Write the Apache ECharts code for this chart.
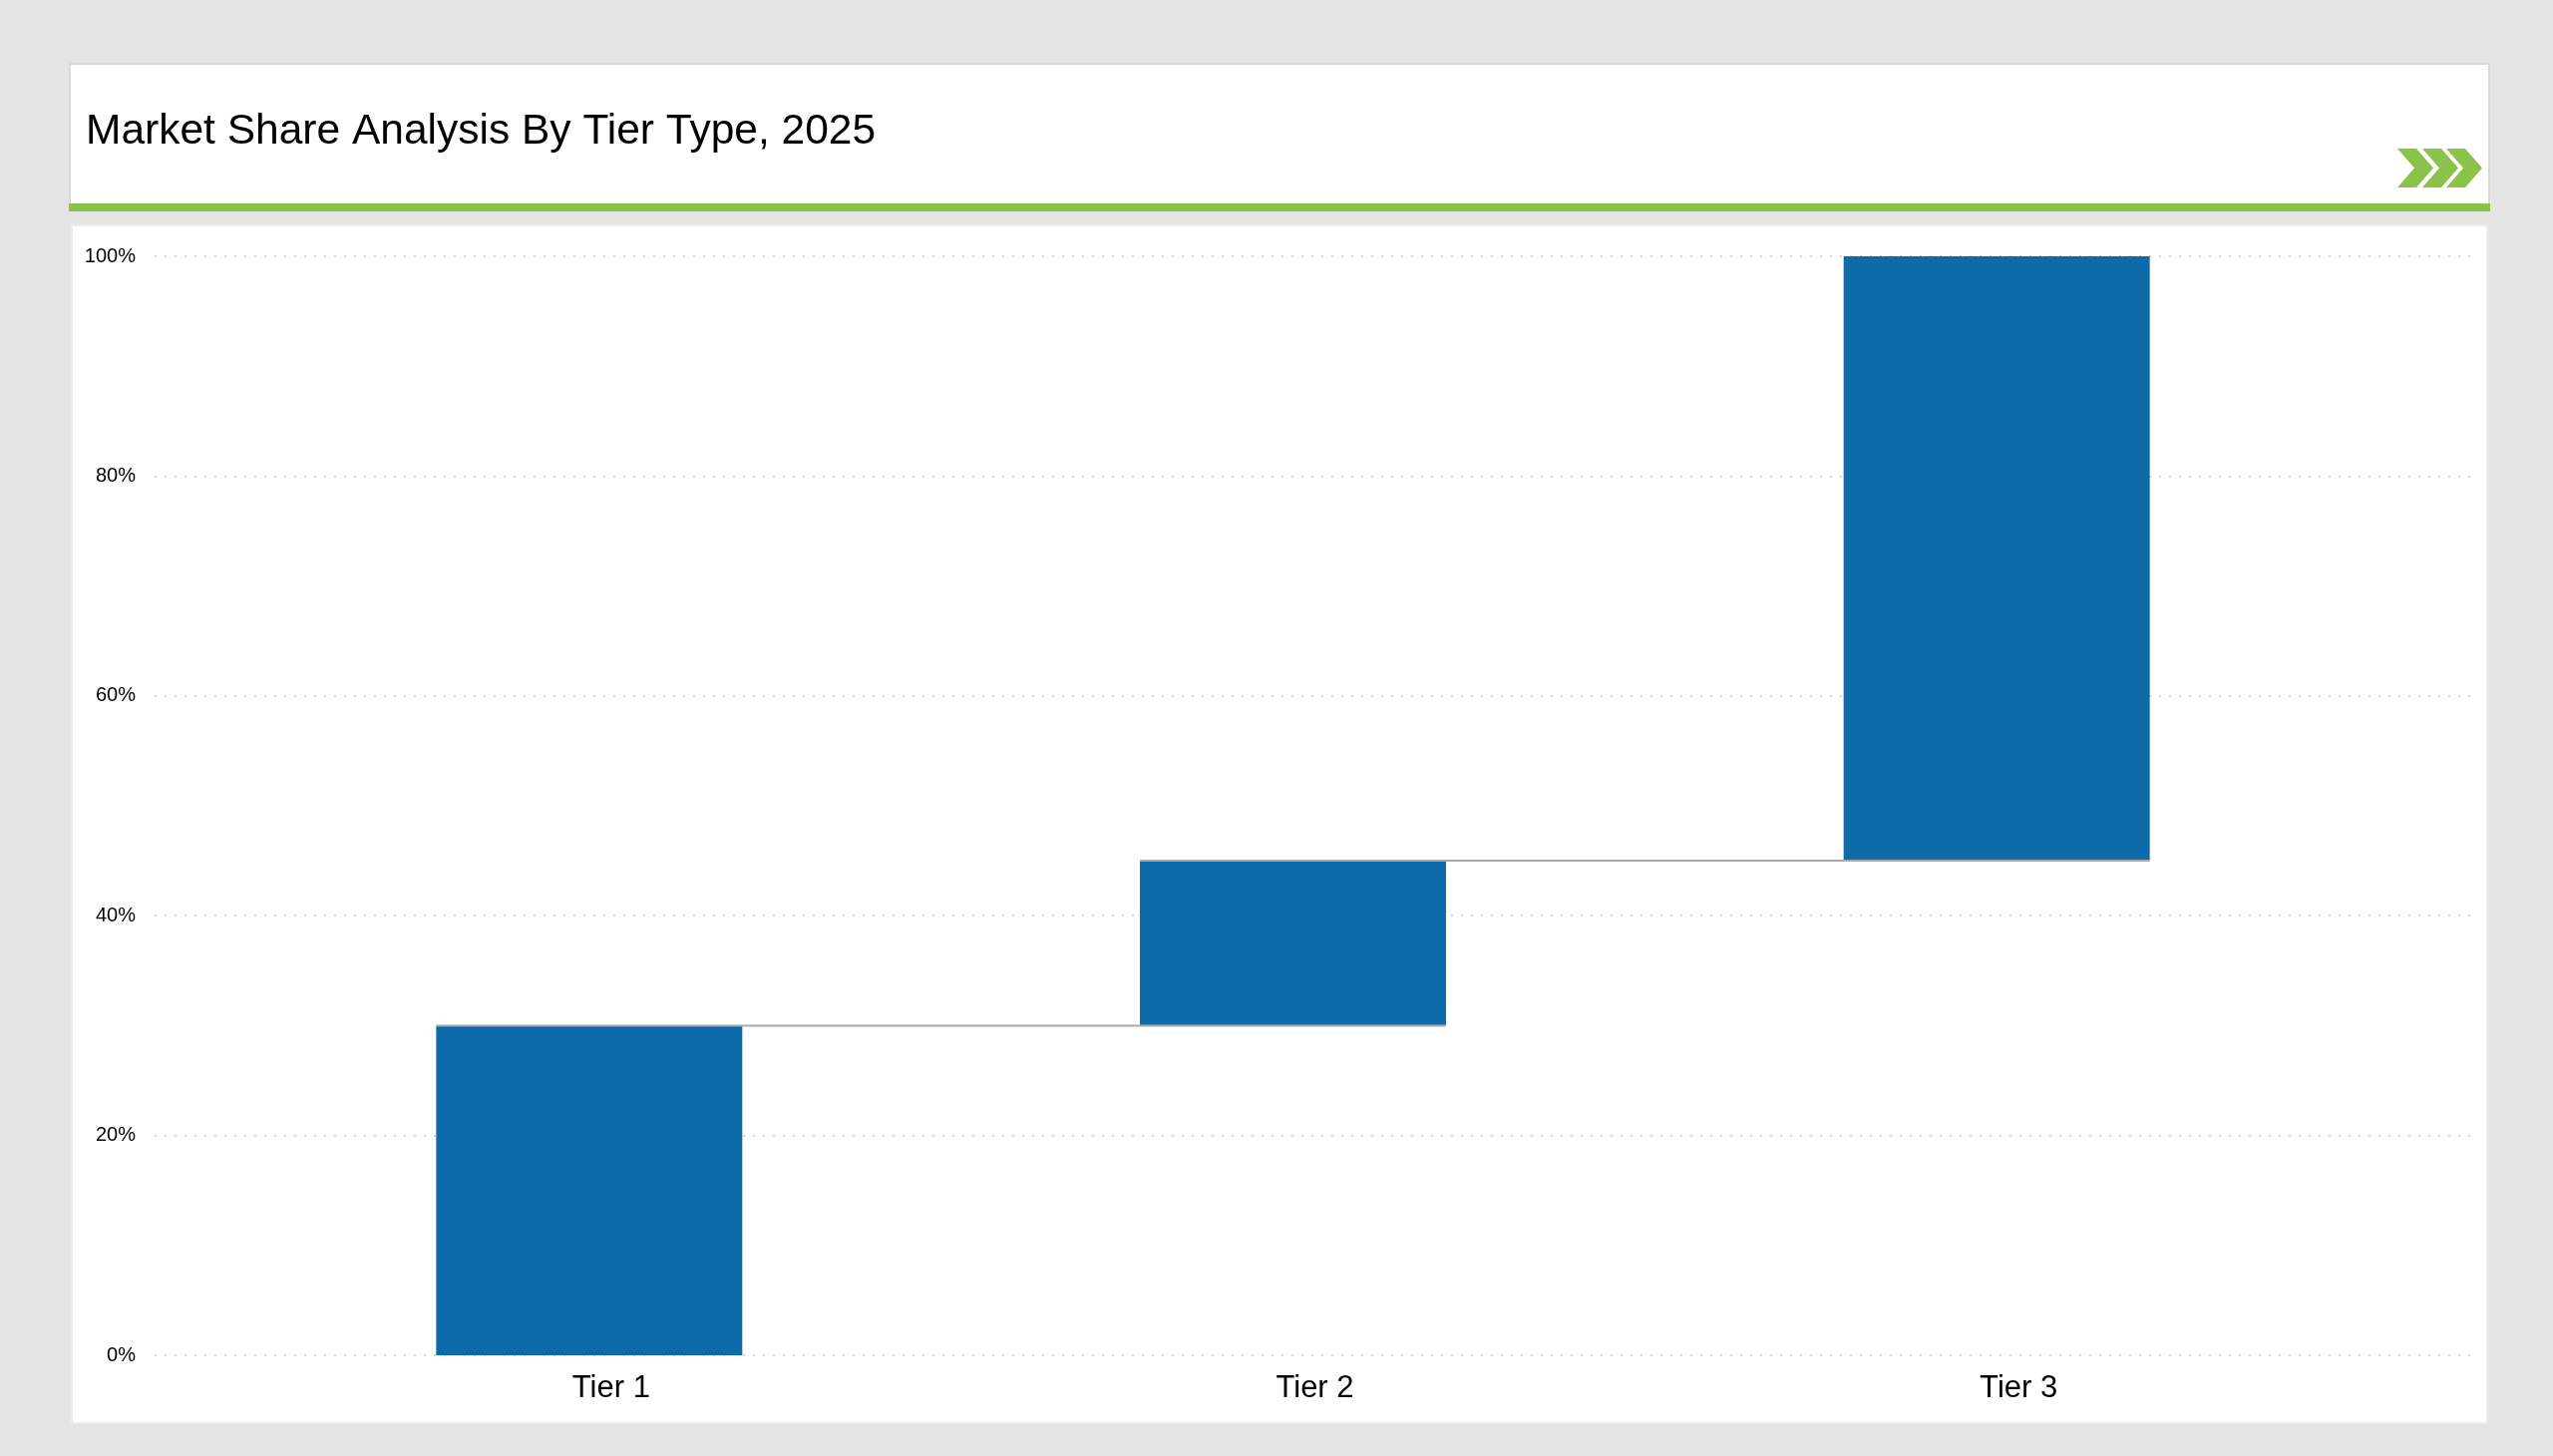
<!DOCTYPE html>
<html>
<head>
<meta charset="utf-8">
<script src="https://cdn.jsdelivr.net/npm/echarts@6/dist/echarts.min.js"></script>
<style>
html,body{margin:0;padding:0;background:#e4e4e4;width:2560px;height:1460px;overflow:hidden;}
.card{position:absolute;background:#fff;box-sizing:border-box;}
#head{left:69px;top:63px;width:2428px;height:149px;border:2px solid #dadada;border-bottom:none;}
#green{position:absolute;left:69px;top:204px;width:2428px;height:8px;background:#8bc24a;}
#body{left:71px;top:225px;width:2424px;height:1203px;border:2px solid #ececec;}
#c{position:absolute;left:0;top:0;width:2560px;height:1460px;}
</style>
</head>
<body>
<div class="card" id="head"></div>
<div id="green"></div>
<div class="card" id="body"></div>
<div id="c"></div>
<script>
// ---- data ----
const titleText = 'Market Share Analysis By Tier Type, 2025';
const categories = ['Tier 1', 'Tier 2', 'Tier 3'];
const shareValues = [30, 15, 55];          // % share of each tier (waterfall steps)
const yTickMin = 0, yTickMax = 100, yTickStep = 20;

// waterfall helpers derived from the data
const baseValues = [];
let run = 0;
shareValues.forEach(v => { baseValues.push(run); run += v; });
const connectorData = [];
for (let i = 0; i < shareValues.length - 1; i++) {
  connectorData.push([i, baseValues[i] + shareValues[i]]);
}

const BAR_RATIO = 0.435;
const chart = echarts.init(document.getElementById('c'), null, {renderer: 'canvas'});

function chevron(x0) {
  const y0 = 149, h = 39;
  return {
    type: 'polygon',
    shape: {points: [[x0, y0], [x0 + 19, y0], [x0 + 36, y0 + h / 2], [x0 + 19, y0 + h], [x0, y0 + h], [x0 + 17, y0 + h / 2]]},
    style: {fill: '#8bc24a'}
  };
}

const option = {
  backgroundColor: 'transparent',
  animation: false,
  title: {
    text: titleText,
    left: 81,
    top: 106,
    textStyle: {fontFamily: 'Liberation Sans', fontSize: 42.5, fontWeight: 'normal', color: '#000'}
  },
  graphic: [chevron(2404), chevron(2429), chevron(2453)],
  grid: [
    {left: 155, right: 83, top: 257, bottom: 101},
    {left: 238, right: 205, top: 257, bottom: 101}
  ],
  xAxis: [
    {gridIndex: 0, type: 'category', data: categories, show: false},
    {
      gridIndex: 1, type: 'category', data: categories,
      axisLine: {show: false}, axisTick: {show: false},
      axisLabel: {fontFamily: 'Liberation Sans', fontSize: 31, color: '#000', margin: 18, padding: [0, 0, 0, 44]}
    }
  ],
  yAxis: [
    {
      gridIndex: 0, type: 'value', min: yTickMin, max: yTickMax, interval: yTickStep,
      axisLine: {show: false}, axisTick: {show: false},
      axisLabel: {formatter: '{value}%', fontFamily: 'Liberation Sans', fontSize: 20, color: '#000', margin: 19},
      splitLine: {show: true, lineStyle: {color: '#d2d2d2', width: 2, type: [2, 8]}}
    },
    {
      gridIndex: 1, type: 'value', min: yTickMin, max: yTickMax, interval: yTickStep,
      show: false, splitLine: {show: false}
    }
  ],
  series: [
    {
      type: 'bar', xAxisIndex: 1, yAxisIndex: 1, stack: 'wf',
      data: baseValues, barWidth: (BAR_RATIO * 100) + '%',
      itemStyle: {color: 'transparent'}, silent: true
    },
    {
      type: 'bar', xAxisIndex: 1, yAxisIndex: 1, stack: 'wf',
      data: shareValues, barWidth: (BAR_RATIO * 100) + '%',
      itemStyle: {color: '#0e6ba9'}
    },
    {
      type: 'custom', xAxisIndex: 1, yAxisIndex: 1, z: 5,
      data: connectorData,
      renderItem: function (params, api) {
        const i = api.value(0), y = api.value(1);
        const a = api.coord([i, y]);
        const b = api.coord([i + 1, y]);
        const half = api.size([1, 0])[0] * BAR_RATIO / 2;
        return {
          type: 'line',
          shape: {x1: a[0] - half, y1: a[1], x2: b[0] + half, y2: b[1]},
          style: {stroke: '#a9a9a9', lineWidth: 2}
        };
      }
    }
  ]
};
chart.setOption(option);
</script>
</body>
</html>
